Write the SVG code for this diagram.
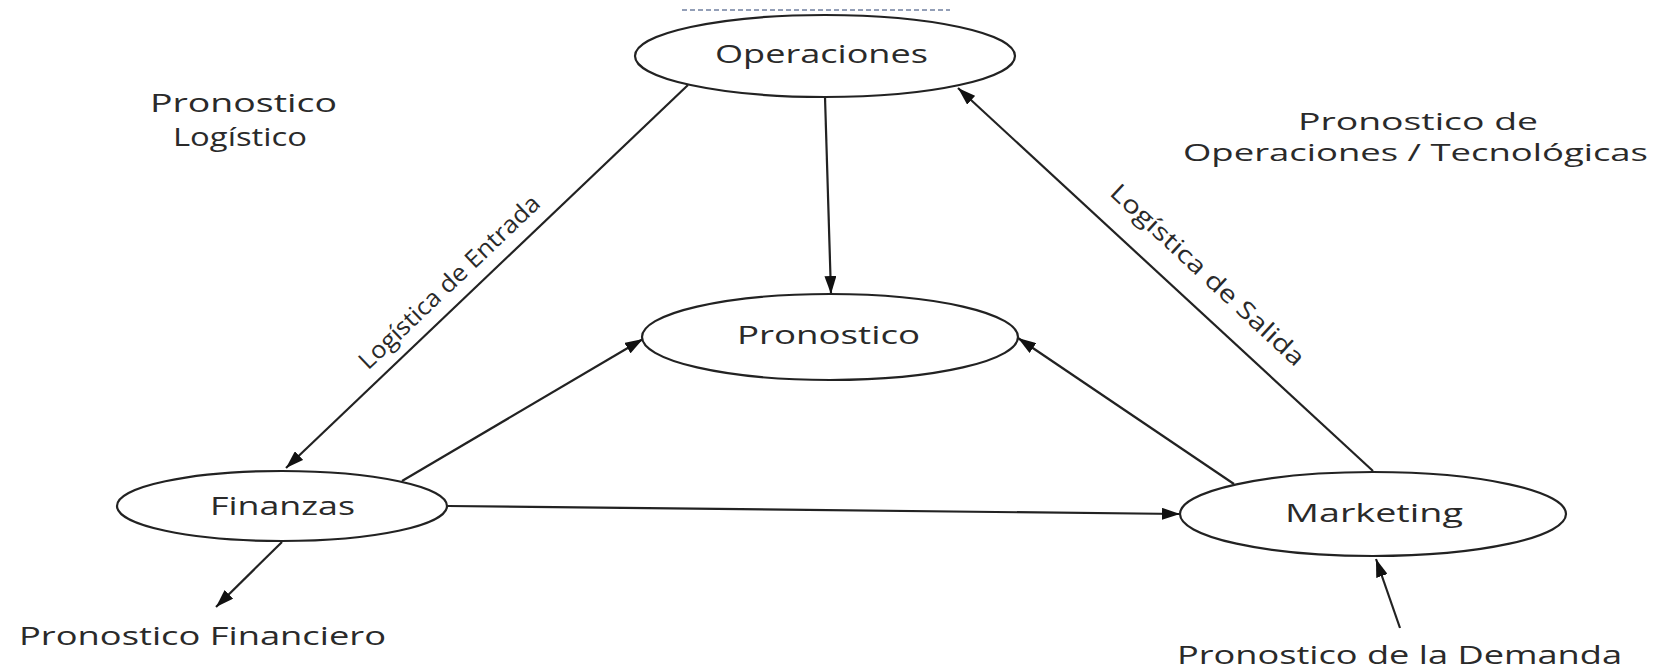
<svg xmlns="http://www.w3.org/2000/svg" width="1660" height="671" viewBox="0 0 1660 671">
<defs>
<style>
.node{fill:#fff;stroke:#222;stroke-width:2.2}
.edge{stroke:#222;stroke-width:2.2;fill:none}
.t{font-family:"Open Sans","Liberation Sans",sans-serif;font-size:26px;fill:#2a2a2a;font-weight:500}
.s{font-size:24px}
</style>
<marker id="ah" markerUnits="userSpaceOnUse" markerWidth="18" markerHeight="12" refX="18" refY="6" orient="auto">
<path d="M0,0 L18,6 L0,12 z" fill="#111"/>
</marker>
</defs>
<rect width="1660" height="671" fill="#fff"/>
<line x1="682" y1="10" x2="950" y2="10" stroke="#7080a0" stroke-width="1.5" stroke-dasharray="5,3"/>

<g id="connectors">
<line class="edge" x1="688" y1="85" x2="286" y2="468" marker-end="url(#ah)"/>
<line class="edge" x1="825" y1="97" x2="831" y2="294" marker-end="url(#ah)"/>
<line class="edge" x1="402" y1="481" x2="643" y2="339" marker-end="url(#ah)"/>
<line class="edge" x1="448" y1="506" x2="1180" y2="514" marker-end="url(#ah)"/>
<line class="edge" x1="1234" y1="484" x2="1018" y2="338" marker-end="url(#ah)"/>
<line class="edge" x1="1373" y1="471" x2="958" y2="88" marker-end="url(#ah)"/>
<line class="edge" x1="282" y1="542" x2="216" y2="607" marker-end="url(#ah)"/>
<line class="edge" x1="1400" y1="628" x2="1376" y2="559" marker-end="url(#ah)"/>
<text class="t s" x="455" y="288" text-anchor="middle" textLength="240" lengthAdjust="spacingAndGlyphs" transform="rotate(-43.6 455 288)">Logística de Entrada</text>
<text class="t s" x="1202" y="281" text-anchor="middle" textLength="255" lengthAdjust="spacingAndGlyphs" transform="rotate(42.8 1202 281)">Logística de Salida</text>
</g>

<g id="operaciones">
<ellipse class="node" cx="825" cy="56" rx="190" ry="41"/>
<text class="t" x="715" y="63" textLength="213" lengthAdjust="spacingAndGlyphs">Operaciones</text>
</g>
<g id="pronostico">
<ellipse class="node" cx="830" cy="337" rx="188" ry="43"/>
<text class="t" x="737" y="344" textLength="183" lengthAdjust="spacingAndGlyphs">Pronostico</text>
</g>
<g id="finanzas">
<ellipse class="node" cx="282" cy="506" rx="165" ry="35"/>
<text class="t" x="210" y="515" textLength="145" lengthAdjust="spacingAndGlyphs">Finanzas</text>
</g>
<g id="marketing">
<ellipse class="node" cx="1373" cy="514" rx="193" ry="42"/>
<text class="t" x="1285" y="522" textLength="178" lengthAdjust="spacingAndGlyphs">Marketing</text>
</g>

<g id="pronostico-logistico">
<text class="t" x="150" y="112" textLength="187" lengthAdjust="spacingAndGlyphs">Pronostico</text>
<text class="t" x="173" y="146" textLength="134" lengthAdjust="spacingAndGlyphs">Logístico</text>
</g>
<g id="pronostico-operaciones">
<text class="t s" x="1298" y="130" textLength="240" lengthAdjust="spacingAndGlyphs">Pronostico de</text>
<text class="t s" x="1183" y="161" textLength="465" lengthAdjust="spacingAndGlyphs">Operaciones / Tecnológicas</text>
</g>
<g id="pronostico-financiero">
<text class="t" x="19" y="645" textLength="367" lengthAdjust="spacingAndGlyphs">Pronostico Financiero</text>
</g>
<g id="pronostico-demanda">
<text class="t" x="1177" y="664" textLength="445" lengthAdjust="spacingAndGlyphs">Pronostico de la Demanda</text>
</g>
</svg>
